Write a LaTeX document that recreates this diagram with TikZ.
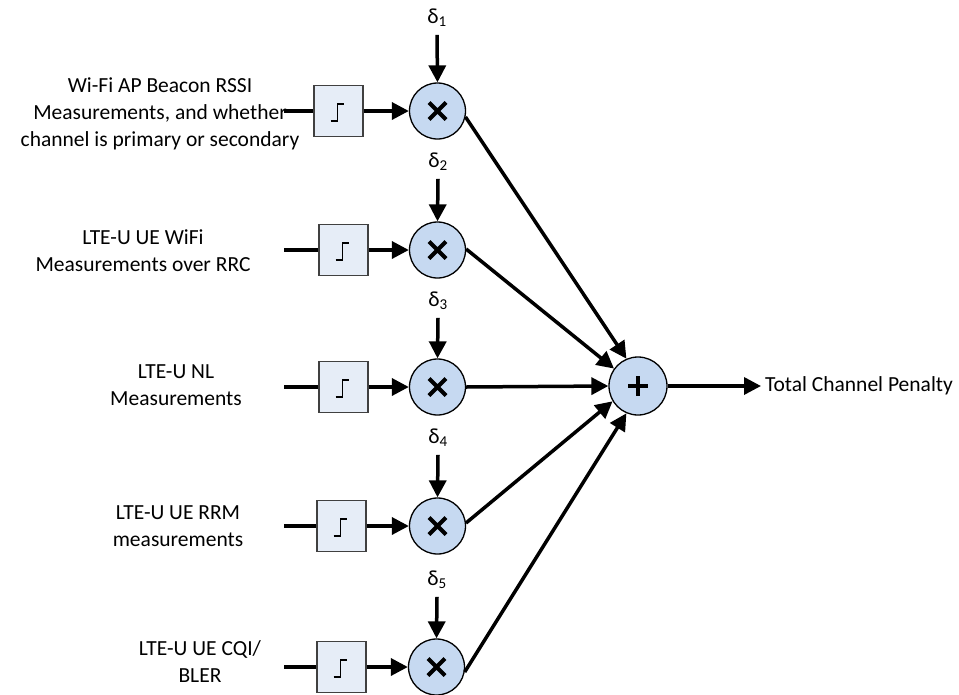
\documentclass[tikz,border=0pt]{standalone}
\usepackage{fontspec}
\setmainfont{Carlito}
\usetikzlibrary{arrows.meta}
\definecolor{boxfill}{HTML}{E6EDF7}
\definecolor{circfill}{HTML}{C6D9F1}
\definecolor{boxdraw}{HTML}{404040}
\begin{document}
\begin{tikzpicture}[x=1pt,y=-1pt,
  lbl/.style={font=\fontsize{21.5}{27}\selectfont, align=center, inner sep=0pt},
  dlt/.style={font=\fontsize{21.5}{27}\selectfont, inner sep=0pt, outer sep=8pt},
  stepbox/.style={draw=boxdraw, line width=1.3pt, fill=boxfill, minimum width=49pt, minimum height=51pt, inner sep=0pt},
  mul/.style={circle, draw=black, line width=1.3pt, fill=circfill, minimum size=56pt, inner sep=0pt},
  arr/.style={line width=3.5pt, -{Triangle[length=17pt,width=17pt]}},
  ln/.style={line width=3.5pt},
  sym/.style={line width=4.2pt},
  stepline/.style={line width=1.6pt}]
\useasboundingbox (0,0) rectangle (959,694);

% input texts
\node[lbl] (t1) at (160,114) {Wi-Fi AP Beacon RSSI\\Measurements, and whether\\channel is primary or secondary};
\node[lbl] (t2) at (143,251) {LTE-U UE WiFi\\Measurements over RRC};
\node[lbl] (t3) at (176,385) {LTE-U NL\\Measurements};
\node[lbl] (t4) at (178,526) {LTE-U UE RRM\\measurements};
\node[lbl] (t5) at (200,662) {LTE-U UE CQI/\\BLER};

% start points of input lines
\coordinate (s1) at (284,111);
\coordinate (s2) at (284,250);
\coordinate (s3) at (284,387);
\coordinate (s4) at (284,526);
\coordinate (s5) at (284,667);

% threshold boxes
\node[stepbox] (b1) at (338.5,111) {};
\node[stepbox] (b2) at (343.5,250) {};
\node[stepbox] (b3) at (343.5,387) {};
\node[stepbox] (b4) at (341.5,526) {};
\node[stepbox] (b5) at (341.5,667) {};

% multipliers
\node[mul] (m1) at (437.5,111) {};
\node[mul] (m2) at (437.5,250) {};
\node[mul] (m3) at (437.5,387) {};
\node[mul] (m4) at (437.5,526) {};
\node[mul] (m5) at (436.5,667) {};

% deltas
\node[dlt] (d1) at (437,18) {δ\textsubscript{1}};
\node[dlt] (d2) at (438,162) {δ\textsubscript{2}};
\node[dlt] (d3) at (438,301) {δ\textsubscript{3}};
\node[dlt] (d4) at (438,438) {δ\textsubscript{4}};
\node[dlt] (d5) at (437,580) {δ\textsubscript{5}};

% adder
\node[mul, minimum size=58pt] (p) at (638,386) {};
\node[lbl, anchor=west, outer sep=4pt] (out) at (761,386) {Total Channel Penalty};

% symbols
\foreach \i in {1,...,5}{
  \draw[stepline] (b\i) ++(-8,10) -- ++(7,0) -- ++(0,-17) -- ++(6,0);
  \draw[sym] (m\i) ++(-8.5,-8.5) -- ++(17,17) (m\i) ++(-8.5,8.5) -- ++(17,-17);
  \draw[ln] (s\i) -- (b\i.west);
  \draw[arr] (b\i.east) -- (m\i.west);
  \draw[arr] (d\i.south) -- (m\i.north);
}
\draw[sym] (p) ++(-10,0) -- ++(20,0) (p) ++(0,-10) -- ++(0,20);

% connectors to adder
\draw[arr] (m1.-12) -- (p.113);
\draw[arr] (m2.2) -- (p.144);
\draw[arr] (m3.east) -- (p.west);
\draw[arr] (m4.6) -- (p.211);
\draw[arr] (m5.-10) -- (p.247);
\draw[arr] (p.east) -- (out.west);
\end{tikzpicture}
\end{document}
